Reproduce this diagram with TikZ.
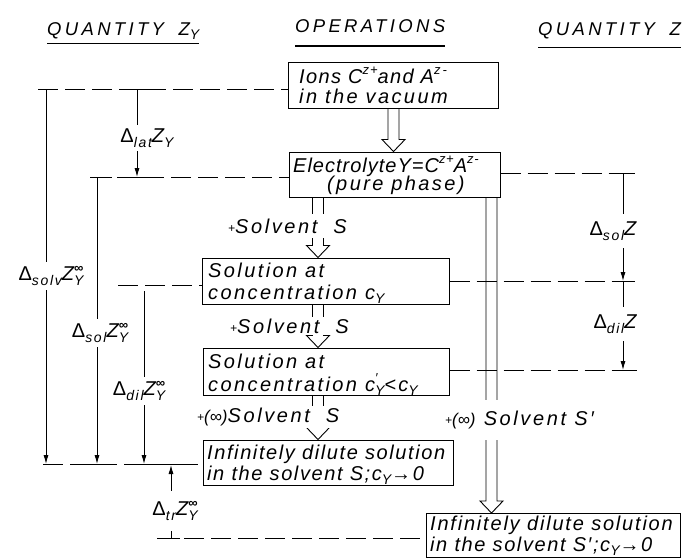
\documentclass[tikz,border=0pt]{standalone}
\usepackage{fontspec}
\setmainfont{Liberation Sans}
\newfontfamily\bodyf{Liberation Sans}[LetterSpace=12]
\newfontfamily\hdrf{Liberation Sans}[LetterSpace=18]
\usetikzlibrary{arrows.meta,calc}
\newcommand\dsub[1]{\raisebox{-0.45ex}{\fontsize{14}{14}\selectfont #1}}
\newcommand\dsup[1]{\raisebox{0.8ex}{\fontsize{13}{13}\selectfont #1}}
\newcommand\ZYinf{Z\rlap{\dsub{Y}}\dsup{\textbf{∞}}}
\newcommand\Dl{\textup{Δ}}
\newcommand\plus{\raisebox{1pt}{\fontsize{12}{12}\selectfont +}}
\newcommand\infpar{{\fontsize{17}{17}\selectfont\addfontfeature{LetterSpace=0}(∞)}}
\newcommand\ls[1]{\addfontfeature{LetterSpace=#1}}
\newcommand\hollow[3]{%
  \draw[dbl] ($(#1 |- #2)+(-5.5,0)$) -- ($(#1 |- #3)+(-5.5,-12)$) -- ($(#1 |- #3)+(-11.5,-12)$)
    -- (#1 |- #3) -- ($(#1 |- #3)+(11.5,-12)$) -- ($(#1 |- #3)+(5.5,-12)$) -- ($(#1 |- #2)+(5.5,0)$);}
\begin{document}
\begin{tikzpicture}[x=1pt,y=-1pt,
  box/.style={draw, line width=1pt, rectangle, inner sep=0pt},
  txt/.style={anchor=base west, inner sep=0pt, font=\bodyf\itshape\fontsize{20}{20}\selectfont},
  hdr/.style={anchor=base west, inner sep=0pt, font=\hdrf\itshape\fontsize{18.5}{20}\selectfont},
  lbl/.style={fill=white, inner xsep=0pt, inner ysep=4pt, font=\bodyf\itshape\fontsize{20}{20}\selectfont},
  arlbl/.style={anchor=base west, fill=white, inner xsep=0pt, font=\bodyf\itshape\fontsize{20}{20}\selectfont\ls{13}},
  dl/.style={line width=0.9pt, dash pattern=on 20pt off 7pt},
  tick/.style={line width=0.9pt},
  ul/.style={line width=1pt},
  arr/.style={line width=0.9pt, -{Latex[length=9pt,width=5pt]}},
  dbl/.style={line width=0.9pt}]
\useasboundingbox (0,0) rectangle (692,558);

% headers
\node[hdr] (h1) at (47,35) {QUANTITY\hspace{6pt} Z\dsub{Y}};
\node[hdr] (h2) at (295,32) {OPERATIONS};
\node[hdr] (h3) at (538,35) {QUANTITY\hspace{6pt} Z};
\draw[ul] ($(h1.base west)+(0,8)$) -- ($(h1.base east)+(0,8)$);
\draw[ul, line width=1.5pt] ($(h2.base west)+(0,14)$) -- ($(h2.base east)+(0,14)$);
\draw[ul] ($(h3.base west)+(0,12)$) -- ($(h3.base east)+(0,12)$);

% boxes
\node[box, minimum width=210pt, minimum height=46pt] (b1) at (393,85) {};
\node[box, minimum width=211pt, minimum height=45pt] (b2) at (394.5,174.5) {};
\node[box, minimum width=247pt, minimum height=46pt] (b3) at (325.5,281) {};
\node[box, minimum width=246pt, minimum height=47pt] (b4) at (326,371.5) {};
\node[box, minimum width=250pt, minimum height=45pt] (b5) at (328,462.5) {};
\node[box, minimum width=254pt, minimum height=44pt] (b6) at (553,535.5) {};

% box texts
\node[txt] (b1a) at (299,83) {\ls{7}Ions C\dsup{z+}and A\dsup{z\,-}};
\node[txt] (b1b) at (299,103) {in the vacuum};
\node[txt] (b2a) at (293,172) {\ls{5}ElectrolyteY=C\dsup{z+}A\dsup{z-}};
\node[txt] (b2b) at (327,190) {(pure phase)};
\node[txt] (b3a) at (208,277) {Solution at};
\node[txt] (b3b) at (208,299) {concentration c\dsub{Y}};
\node[txt] (b4a) at (208,368) {Solution at};
\node[txt] (b4b) at (208,391) {concentration c\rlap{\dsup{′}}\dsub{Y}<c\dsub{Y}};
\node[txt] (b5a) at (207,459) {\ls{8}Infinitely dilute solution};
\node[txt] (b5b) at (207,480) {\ls{8}in the solvent S;c\dsub{Y}→0};
\node[txt] (b6a) at (430,530) {\ls{9}Infinitely dilute solution};
\node[txt] (b6b) at (430,551) {\ls{8}in the solvent S′;c\dsub{Y}→0};

% hollow arrows
\coordinate (ax1) at (393.5,0);
\coordinate (ax2) at (318,0);
\coordinate (ax5) at (491.5,0);
\hollow{ax1}{b1.south}{b2.north}
\hollow{ax2}{b2.south}{b3.north}
\hollow{ax2}{b3.south}{b4.north}
\hollow{ax2}{b4.south}{b5.north}
\hollow{ax5}{b2.south}{b6.north}

% operation labels
\node[arlbl, inner ysep=5pt] (s1) at (228,233) {\plus Solvent\hspace{16pt}S};
\node[arlbl, inner ysep=1.5pt] (s2) at (230,333) {\plus Solvent\hspace{16pt}S};
\node[arlbl, inner ysep=2pt] (s3) at (197,422) {\plus\infpar Solvent\hspace{16pt}S};
\node[arlbl, inner ysep=11pt] (s4) at (445,425) {\plus\infpar\ Solvent S′};

% left dashed levels
\coordinate (L1s) at (38,89);
\coordinate (L2s) at (90,177);
\coordinate (L3s) at (118,285);
\coordinate (L4s) at (43,464);
\coordinate (L5s) at (157,538);
\draw[dl] (L1s) -- (L1s -| b1.west);
\draw[dl] (L2s) -- (L2s -| b2.west);
\draw[dl] (L3s) -- (L3s -| b3.west);
\draw[dl] (L4s) -- (L4s -| b5.west);
\draw[dl] (L5s) -- (L5s -| b6.west);

% right dashed levels
\coordinate (R1e) at (635,173);
\coordinate (R2e) at (635,281);
\coordinate (R3e) at (637,370);
\draw[dl] (R1e -| b2.east) -- (R1e);
\draw[dl] (R2e -| b3.east) -- (R2e);
\draw[dl] (R3e -| b4.east) -- (R3e);

% ticks
\draw[tick] (38,89) -- (57,89);
\draw[tick] (127,89) -- (147,89);
\draw[tick] (90,177) -- (112,177);
\draw[tick] (125,177) -- (147,177);
\draw[tick] (43,464) -- (58,464);
\draw[tick] (87,464) -- (108,464);
\draw[tick] (133,464) -- (155,464);
\draw[tick] (163,464) -- (180,464);
\draw[tick] (157,538) -- (180,538);
\draw[tick] (610,173) -- (635,173);
\draw[tick] (612,281) -- (635,281);
\draw[tick] (612,370) -- (637,370);

% left quantity arrows
\coordinate (v1t) at (46,89);   \coordinate (v1b) at (46,464);
\coordinate (vlt) at (137,89);  \coordinate (vlb) at (137,177);
\coordinate (v2t) at (97,177);  \coordinate (v2b) at (97,464);
\coordinate (v3t) at (144,291); \coordinate (v3b) at (144,464);
\coordinate (vtb) at (171,538); \coordinate (vtt) at (171,465);
\draw[arr] (v1t) -- (v1b);
\draw[arr] (vlt) -- (vlb);
\draw[arr] (v2t) -- (v2b);
\draw[arr] (v3t) -- (v3b);
\draw[arr] (vtb) -- (vtt);
\node[lbl] (q1) at (51,276) {\Dl\dsub{solv}\ZYinf};
\node[lbl] (q2) at (147,138) {\Dl\dsub{lat}Z\dsub{Y}};
\node[lbl] (q3) at (100,333) {\Dl\dsub{sol}\ZYinf};
\node[lbl] (q4) at (139,391) {\Dl\dsub{dil}\ZYinf};
\node[lbl, inner ysep=10pt] (q5) at (175,511) {\Dl\dsub{tr}\ZYinf};

% right quantity arrows
\coordinate (w1t) at (623,173); \coordinate (w1b) at (623,281);
\coordinate (w2t) at (623,281); \coordinate (w2b) at (623,370);
\draw[arr] (w1t) -- (w1b);
\draw[arr] (w2t) -- (w2b);
\node[lbl, inner ysep=8pt] (r1) at (613,231) {\Dl\dsub{sol}Z};
\node[lbl, inner ysep=8pt] (r2) at (615,324) {\Dl\dsub{dil}Z};
\end{tikzpicture}
\end{document}
